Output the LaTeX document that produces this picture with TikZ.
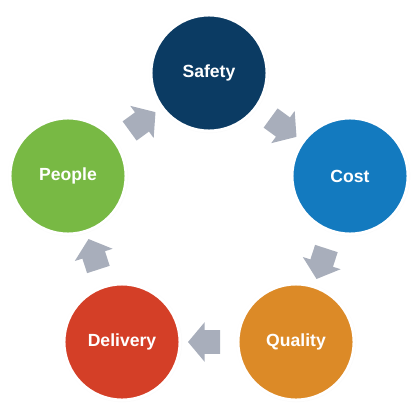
\documentclass[tikz,border=0pt]{standalone}
\usepackage{fontspec}
\setmainfont{Liberation Sans}
\usetikzlibrary{shapes.arrows,calc,shadows}
\definecolor{safetyc}{HTML}{0B3B63}
\definecolor{costc}{HTML}{137ABF}
\definecolor{qualityc}{HTML}{DC8A27}
\definecolor{deliveryc}{HTML}{D43F27}
\definecolor{peoplec}{HTML}{78B944}
\definecolor{arrowc}{HTML}{A8AEBB}
\begin{document}
\begin{tikzpicture}[x=0.025cm,y=-0.025cm]
        \tikzstyle{goal}=[circle,draw=white,line width=0.075cm,minimum size=2.9cm,inner sep=0pt,
          text=white,font=\fontsize{12.5}{14}\selectfont\bfseries,
          circular drop shadow={shadow xshift=0pt,shadow yshift=0pt,shadow scale=1.04,opacity=0.2}]
        \tikzstyle{flow}=[single arrow,fill=arrowc,draw=none,inner sep=0pt,inner ysep=0.29cm,
          minimum height=0.8cm,single arrow head extend=0.2cm,single arrow tip angle=100]
        \useasboundingbox (0,0) rectangle (420,420);
       \begin{scope}
         \node [goal,fill=safetyc] (safety) at (209,73) {Safety};
         \node [goal,fill=costc] (cost) at (350,176) {Cost};
         \node [goal,fill=qualityc] (quality) at (296,342) {Quality};
         \node [goal,fill=deliveryc] (delivery) at (122,342) {Delivery};
         \node [goal,fill=peoplec] (people) at (68,176) {People};
         \node [flow,rotate=-36] (a1) at ($(safety)!0.5!(cost)$) {};
         \node [flow,rotate=-108] (a2) at ($(cost)!0.5!(quality)$) {};
         \node [flow,rotate=180] (a3) at ($(quality)!0.5!(delivery)$) {};
         \node [flow,rotate=108] (a4) at ($(delivery)!0.5!(people)$) {};
         \node [flow,rotate=36] (a5) at ($(people)!0.5!(safety)$) {};
        \end{scope}
      \end{tikzpicture}
\end{document}
